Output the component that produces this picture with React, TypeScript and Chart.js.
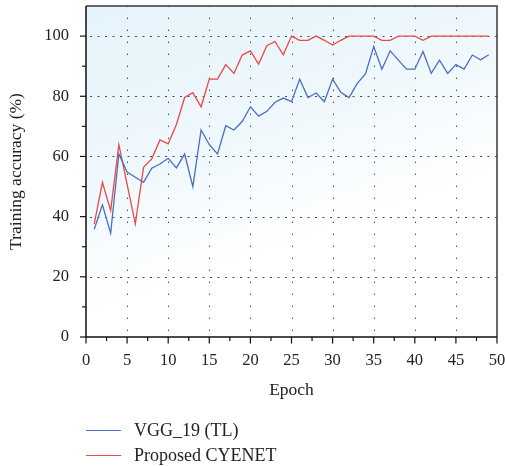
import React, { useEffect, useRef } from "react";
import { Chart, registerables } from "chart.js";

Chart.register(...registerables);

const epochs = [1, 2, 3, 4, 5, 6, 7, 8, 9, 10, 11, 12, 13, 14, 15, 16, 17, 18, 19, 20, 21, 22, 23, 24, 25, 26, 27, 28, 29, 30, 31, 32, 33, 34, 35, 36, 37, 38, 39, 40, 41, 42, 43, 44, 45, 46, 47, 48, 49];

const vggAccuracy = [35.8, 43.9, 34.5, 60.8, 54.8, 53.1, 51.4, 56.1, 57.5, 59.4, 56.2, 60.8, 50.0, 68.8, 63.9, 60.8, 70.2, 68.8, 71.6, 76.5, 73.4, 75.0, 78.0, 79.4, 78.2, 85.7, 79.6, 81.1, 78.2, 85.7, 81.3, 79.6, 84.3, 87.4, 96.5, 89.0, 95.1, 92.0, 89.0, 89.0, 94.9, 87.6, 92.0, 87.6, 90.5, 89.0, 93.7, 92.1, 93.8];

const cyenetAccuracy = [37.6, 51.4, 42.0, 63.9, 50.7, 37.6, 56.4, 59.2, 65.5, 64.2, 70.6, 79.6, 81.2, 76.5, 85.7, 85.7, 90.5, 87.6, 93.7, 95.1, 90.7, 96.8, 98.2, 93.8, 100, 98.6, 98.6, 100, 98.6, 97.0, 98.6, 100, 100, 100, 100, 98.6, 98.6, 100, 100, 100, 98.6, 100, 100, 100, 100, 100, 100, 100, 100];

const seriesLabels = ["VGG_19 (TL)", "Proposed CYENET"];
const seriesColors = ["#4a6fc2", "#ee4747"];

const xTickValues = [0, 5, 10, 15, 20, 25, 30, 35, 40, 45, 50];
const xMinorTicks = [2.5, 7.5, 12.5, 17.5, 22.5, 27.5, 32.5, 37.5, 42.5, 47.5];
const yTickValues = [0, 20, 40, 60, 80, 100];
const yMinorTicks = [10, 30, 50, 70, 90];

const FONT = "'Liberation Serif', 'Times New Roman', serif";

const decoPlugin = {
  id: "deco",
  beforeDraw(chart: any) {
    const { ctx, chartArea } = chart;
    const { left, top, right, bottom } = chartArea;
    const h = bottom - top;
    const g = ctx.createLinearGradient(left, top, left + 0.35 * h, top + h);
    g.addColorStop(0, "rgb(228,243,250)");
    g.addColorStop(0.5, "rgb(240,248,252)");
    g.addColorStop(0.85, "rgb(255,255,255)");
    g.addColorStop(1, "rgb(255,255,255)");
    ctx.save();
    ctx.fillStyle = g;
    ctx.fillRect(left, top, right - left, bottom - top);
    ctx.restore();
  },
  beforeDatasetsDraw(chart: any) {
    const { ctx, chartArea, scales } = chart;
    const { left, top, right, bottom } = chartArea;
    const xs = scales.x;
    const ys = scales.y;
    ctx.save();
    ctx.strokeStyle = "#4a4a4a";
    ctx.lineWidth = 1;
    ctx.setLineDash([1.4, 10.6]);
    xTickValues.forEach((v) => {
      if (v === 0 || v === 50) return;
      const px = Math.round(xs.getPixelForValue(v)) + 0.5;
      ctx.beginPath();
      ctx.moveTo(px, bottom - 6);
      ctx.lineTo(px, top);
      ctx.stroke();
    });
    ctx.setLineDash([2, 5.5]);
    yTickValues.forEach((v) => {
      if (v === 0) return;
      const py = Math.round(ys.getPixelForValue(v)) + 0.5;
      ctx.beginPath();
      ctx.moveTo(left + 4, py);
      ctx.lineTo(right, py);
      ctx.stroke();
    });
    ctx.restore();
  },
  afterDatasetsDraw(chart: any) {
    const { ctx, chartArea, scales } = chart;
    const { left, top, right, bottom } = chartArea;
    const xs = scales.x;
    const ys = scales.y;
    ctx.save();
    ctx.setLineDash([]);
    ctx.strokeStyle = "#3a3a3a";
    ctx.lineWidth = 1.5;
    ctx.beginPath();
    ctx.moveTo(left, top);
    ctx.lineTo(right, top);
    ctx.lineTo(right, bottom);
    ctx.stroke();
    ctx.strokeStyle = "#111";
    ctx.beginPath();
    ctx.moveTo(left, top);
    ctx.lineTo(left, bottom);
    ctx.lineTo(right, bottom);
    ctx.stroke();
    ctx.lineWidth = 1.2;
    xTickValues.forEach((v) => {
      const px = xs.getPixelForValue(v);
      ctx.beginPath();
      ctx.moveTo(px, bottom);
      ctx.lineTo(px, bottom + 6.5);
      ctx.stroke();
    });
    xMinorTicks.forEach((v) => {
      const px = xs.getPixelForValue(v);
      ctx.beginPath();
      ctx.moveTo(px, bottom);
      ctx.lineTo(px, bottom + 4);
      ctx.stroke();
    });
    yTickValues.forEach((v) => {
      const py = ys.getPixelForValue(v);
      ctx.beginPath();
      ctx.moveTo(left, py);
      ctx.lineTo(left - 6, py);
      ctx.stroke();
    });
    yMinorTicks.forEach((v) => {
      const py = ys.getPixelForValue(v);
      ctx.beginPath();
      ctx.moveTo(left, py);
      ctx.lineTo(left - 4, py);
      ctx.stroke();
    });
    ctx.restore();
  },
};

export default function App() {
  const canvasRef = useRef<HTMLCanvasElement | null>(null);

  useEffect(() => {
    document.body.style.margin = "0";
    const canvas = canvasRef.current;
    if (!canvas) return;
    const chart = new Chart(canvas, {
      type: "line",
      data: {
        datasets: [
          {
            label: seriesLabels[0],
            data: epochs.map((e, i) => ({ x: e, y: vggAccuracy[i] })),
            borderColor: seriesColors[0],
            borderWidth: 1.3,
            pointRadius: 0,
            tension: 0,
            fill: false,
          },
          {
            label: seriesLabels[1],
            data: epochs.map((e, i) => ({ x: e, y: cyenetAccuracy[i] })),
            borderColor: seriesColors[1],
            borderWidth: 1.3,
            pointRadius: 0,
            tension: 0,
            fill: false,
          },
        ],
      },
      options: {
        animation: false,
        responsive: false,
        maintainAspectRatio: false,
        layout: { padding: { top: 6, left: 0, right: 0, bottom: 0 } },
        plugins: {
          legend: { display: false },
          tooltip: { enabled: false },
        },
        scales: {
          x: {
            type: "linear",
            min: 0,
            max: 50,
            afterBuildTicks: (scale: any) => {
              scale.ticks = xTickValues.map((v) => ({ value: v }));
            },
            afterFit: (scale: any) => {
              scale.height = 129;
              scale.paddingLeft = 0;
              scale.paddingRight = 8;
            },
            ticks: {
              autoSkip: false,
              maxRotation: 0,
              padding: 14,
              color: "#222",
              font: { family: FONT, size: 16.5 },
            },
            grid: { display: false, drawTicks: false },
            border: { display: false },
            title: {
              display: true,
              text: "Epoch",
              color: "#222",
              font: { family: FONT, size: 17.5 },
              padding: { top: 0, bottom: 65 },
            },
          },
          y: {
            type: "linear",
            min: 0,
            max: 110,
            afterBuildTicks: (scale: any) => {
              scale.ticks = yTickValues.map((v) => ({ value: v }));
            },
            afterFit: (scale: any) => {
              scale.width = 86;
              scale.paddingTop = 0;
              scale.paddingBottom = 0;
            },
            ticks: {
              autoSkip: false,
              padding: 17,
              color: "#222",
              font: { family: FONT, size: 16.5 },
            },
            grid: { display: false, drawTicks: false },
            border: { display: false },
            title: {
              display: true,
              text: "Training accuracy (%)",
              color: "#222",
              font: { family: FONT, size: 17.5 },
              padding: { top: 6, bottom: 0 },
            },
          },
        },
      },
      plugins: [decoPlugin],
    });
    return () => chart.destroy();
  }, []);

  const legendRow = (i: number, top: number) => (
    <div
      key={i}
      style={{
        position: "absolute",
        left: 86,
        top: top,
        height: 20,
        display: "flex",
        alignItems: "center",
        fontFamily: FONT,
        fontSize: 18,
        color: "#222",
        whiteSpace: "nowrap",
      }}
    >
      <span
        style={{
          display: "inline-block",
          width: 35,
          height: 0,
          borderTop: `1.3px solid ${seriesColors[i]}`,
          marginRight: 13,
        }}
      />
      <span>{seriesLabels[i]}</span>
    </div>
  );

  return (
    <div style={{ position: "relative", width: 505, height: 466, background: "#fff" }}>
      <canvas ref={canvasRef} width={505} height={466} style={{ display: "block" }} />
      {legendRow(0, 420)}
      {legendRow(1, 445)}
    </div>
  );
}
